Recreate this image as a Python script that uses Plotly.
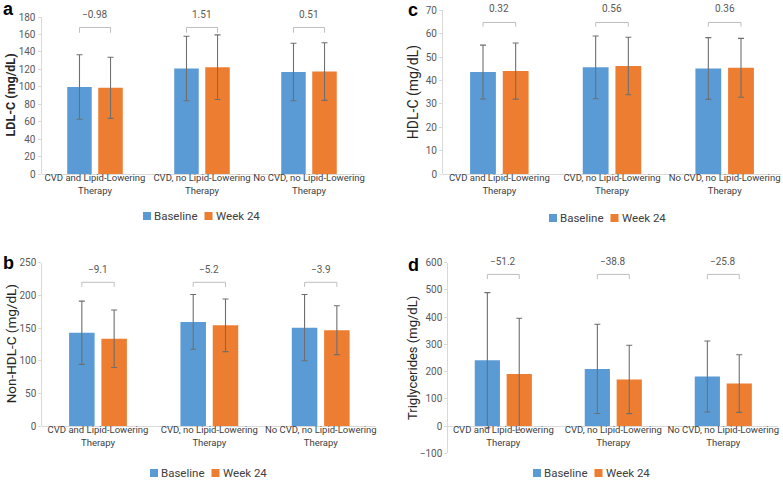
import plotly.graph_objects as go

# ---------------- data ----------------
categories = ["CVD and Lipid-Lowering<br>Therapy",
              "CVD, no Lipid-Lowering<br>Therapy",
              "No CVD, no Lipid-Lowering<br>Therapy"]
series_names = ["Baseline", "Week 24"]

ldl_baseline = [99.8, 121.0, 116.9]
ldl_baseline_sd = [37.0, 37.0, 33.0]
ldl_week24 = [98.8, 122.5, 117.4]
ldl_week24_sd = [35.0, 37.0, 33.0]
ldl_change = [-0.98, 1.51, 0.51]

hdl_baseline = [43.6, 45.6, 45.1]
hdl_baseline_sd = [11.5, 13.4, 13.2]
hdl_week24 = [44.0, 46.2, 45.4]
hdl_week24_sd = [12.0, 12.3, 12.6]
hdl_change = [0.32, 0.56, 0.36]

nonhdl_baseline = [142.7, 159.4, 150.6]
nonhdl_baseline_sd = [48.4, 42.0, 50.7]
nonhdl_week24 = [133.6, 154.2, 146.7]
nonhdl_week24_sd = [44.0, 40.3, 37.5]
nonhdl_change = [-9.1, -5.2, -3.9]

tg_baseline = [242.0, 210.0, 182.0]
tg_baseline_sd = [248.0, 164.0, 130.5]
tg_week24 = [190.8, 171.2, 156.2]
tg_week24_sd = [205.0, 125.6, 106.0]
tg_change = [-51.2, -38.8, -25.8]

# ---------------- style ----------------
W, H = 783, 480
FONT = "Roboto, sans-serif"
BLUE = "#5b9bd5"
ORANGE = "#ed7d31"
COLORS = [BLUE, ORANGE]
AXIS = "#d9d9d9"
TXT = "#404040"
BARGAP = 0.42

def px_x(p):
    return p / W

def px_y(p):
    return 1 - p / H

panels = [
    dict(n="", title="LDL-C (mg/dL)", bold=True, tsize=12.5, letter="a",
         b=ldl_baseline, bsd=ldl_baseline_sd, w=ldl_week24, wsd=ldl_week24_sd, ch=ldl_change,
         yr=[0, 180], dt=20, xd=(41.5, 362.5), yd=(174, 17), zero=174,
         br=(168, 162), ty=1.013, leg=(147, 216), lp=(8, 9), tx=10),
    dict(n="2", title="HDL-C (mg/dL)", bold=False, tsize=14, letter="c",
         b=hdl_baseline, bsd=hdl_baseline_sd, w=hdl_week24, wsd=hdl_week24_sd, ch=hdl_change,
         yr=[0, 70], dt=10, xd=(443, 781), yd=(174, 10.3), zero=174,
         br=(64.8, 63.0), ty=1.008, leg=(553, 218), lp=(413, 10), tx=413),
    dict(n="3", title="Non-HDL-C (mg/dL)", bold=False, tsize=13.5, letter="b",
         b=nonhdl_baseline, bsd=nonhdl_baseline_sd, w=nonhdl_week24, wsd=nonhdl_week24_sd, ch=nonhdl_change,
         yr=[0, 250], dt=50, xd=(42.3, 376.4), yd=(426, 262.7), zero=426,
         br=(220, 213), ty=0.961, leg=(154, 473), lp=(8, 263), tx=11),
    dict(n="4", title="Triglycerides (mg/dL)", bold=False, tsize=13, letter="d",
         b=tg_baseline, bsd=tg_baseline_sd, w=tg_week24, wsd=tg_week24_sd, ch=tg_change,
         yr=[-100, 600], dt=100, xd=(448.3, 778.3), yd=(453.3, 262.7), zero=426,
         br=(557, 540), ty=1.005, leg=(537, 473), lp=(413, 265), tx=412),
]

fig = go.Figure()
layout = dict(width=W, height=H, margin=dict(l=0, r=0, t=0, b=0, autoexpand=False),
              paper_bgcolor="white", plot_bgcolor="white",
              barmode="group", bargap=BARGAP, bargroupgap=0.21,
              font=dict(family=FONT, color=TXT),
              showlegend=False)
shapes = []
annotations = []

half = (1 - BARGAP) / 4  # offset of each bar centre from category centre

for i, p in enumerate(panels):
    n = p["n"]
    xa = "x" + n
    ya = "y" + n
    for name, vals, sd, col in [(series_names[0], p["b"], p["bsd"], BLUE),
                                (series_names[1], p["w"], p["wsd"], ORANGE)]:
        fig.add_trace(go.Bar(
            x=categories, y=vals, name=name, xaxis=xa, yaxis=ya,
            marker=dict(color=col, line=dict(width=0)),
            error_y=dict(type="data", array=sd, visible=True, color="#6f6f6f",
                         thickness=1.1, width=3)))
    layout["xaxis" + n] = dict(domain=[px_x(p["xd"][0]), px_x(p["xd"][1])],
                               anchor="free", position=px_y(p["zero"]),
                               showline=True, linecolor=AXIS, linewidth=1,
                               showgrid=False, zeroline=False, ticks="",
                               automargin=False,
                               ticklabelstandoff=-5, ticklabeloverflow="allow",
                               tickangle=0, tickfont=dict(size=9.5, color=TXT, family=FONT),
                               categoryorder="array", categoryarray=categories,
                               range=[-0.5, 2.5], fixedrange=True)
    layout["yaxis" + n] = dict(domain=[px_y(p["yd"][0]), px_y(p["yd"][1])],
                               anchor="x" + n, range=p["yr"], dtick=p["dt"],
                               showline=True, linecolor=AXIS, linewidth=1,
                               showgrid=False, zeroline=False, automargin=False,
                               ticks="outside", ticklen=3, tickcolor=AXIS,
                               tickfont=dict(size=10, color="#595959", family=FONT))
    # legend (square + label) below each panel
    lx, ly = p["leg"]
    for k, nm in enumerate(series_names):
        cx = lx + 61.5 * k
        shapes.append(dict(type="rect", xref="paper", yref="paper",
                           x0=px_x(cx - 4), x1=px_x(cx + 4), y0=px_y(ly + 4), y1=px_y(ly - 4),
                           fillcolor=COLORS[k], line=dict(width=0)))
        annotations.append(dict(text=nm, xref="paper", yref="paper", x=px_x(cx + 5), y=px_y(ly),
                                showarrow=False, xanchor="left", yanchor="middle",
                                font=dict(size=11.5, color=TXT, family=FONT)))
    # change brackets and labels
    for j, c in enumerate(p["ch"]):
        x0, x1 = j - half, j + half
        yt, yb = p["br"]
        for (a0, b0, a1, b1) in [(x0, yb, x0, yt), (x0, yt, x1, yt), (x1, yt, x1, yb)]:
            shapes.append(dict(type="line", xref=xa, yref=ya, x0=a0, y0=b0, x1=a1, y1=b1,
                               line=dict(color="#bfbfbf", width=1)))
        label = ("%g" % c).replace("-", "\u2212")
        annotations.append(dict(text=label, xref=xa, yref=ya + " domain", x=j, y=p["ty"],
                                showarrow=False, xanchor="center", yanchor="middle",
                                font=dict(size=10, color="#595959", family=FONT)))
    t = "<b>%s</b>" % p["title"] if p["bold"] else p["title"]
    ymid = (px_y(p["yd"][0]) + px_y(p["yd"][1])) / 2
    annotations.append(dict(text=t, xref="paper", yref="paper", x=px_x(p["tx"]), y=ymid,
                            textangle=-90, showarrow=False, xanchor="center", yanchor="middle",
                            font=dict(size=p["tsize"], color="#262626", family=FONT)))
    annotations.append(dict(text="<b>%s</b>" % p["letter"], xref="paper", yref="paper",
                            x=px_x(p["lp"][0]), y=px_y(p["lp"][1]), showarrow=False,
                            xanchor="center", yanchor="middle",
                            font=dict(size=18, color="black", family="Liberation Sans, Arial, sans-serif")))

layout["shapes"] = shapes
layout["annotations"] = annotations
fig.update_layout(**layout)
fig.write_html("out.html", config={"displayModeBar": False},
               post_script="document.body.style.margin='0';document.body.style.overflow='hidden';")
